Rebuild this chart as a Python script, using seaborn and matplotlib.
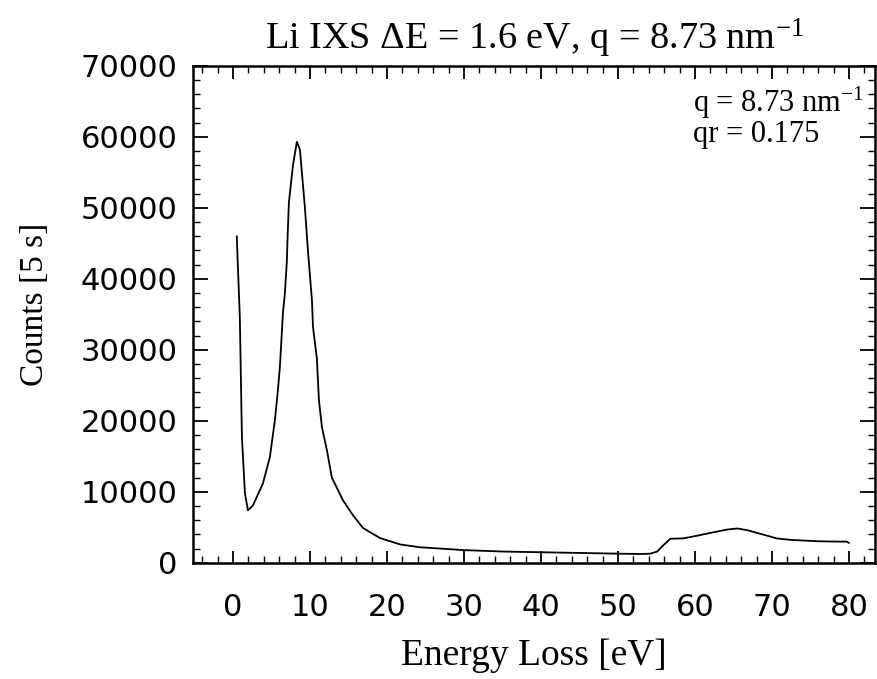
import matplotlib
matplotlib.use("Agg")
import matplotlib.pyplot as plt
from matplotlib.ticker import MultipleLocator
import numpy as np
import pandas as pd
import seaborn as sns

# Energy-loss spectrum of Li (IXS)
energy_loss = [0.5, 0.9, 1.17, 1.56, 1.95, 2.6, 3.9, 4.8, 5.45, 5.84, 6.1, 6.5,
               6.75, 7.0, 7.1, 7.27, 7.8, 8.3, 8.7, 9.35, 9.74, 10.26, 10.4,
               10.9, 11.17, 11.56, 12.2, 12.85, 14.3, 15.6, 16.9, 19.1, 21.7,
               24.3, 30.0, 35.0, 40.0, 45.0, 50.0, 53.0, 54.2, 55.1, 55.8,
               56.8, 58.4, 59.7, 61.9, 64.2, 65.5, 66.8, 68.8, 70.6, 72.3,
               75.8, 78.4, 79.7, 80.0]
counts = [46000, 34500, 17700, 9800, 7400, 8100, 11200, 14900, 20100, 24300,
          27600, 35300, 38000, 42400, 45900, 50800, 56000, 59300, 58200,
          50000, 44000, 37000, 33200, 28800, 22900, 19100, 15900, 12000,
          8800, 6700, 4900, 3500, 2600, 2200, 1800, 1600, 1500, 1400, 1300,
          1250, 1300, 1600, 2400, 3400, 3450, 3700, 4200, 4700, 4850, 4600,
          4000, 3450, 3250, 3050, 3000, 3000, 2800]

x_ticks = [0, 10, 20, 30, 40, 50, 60, 70, 80]
y_ticks = [0, 10000, 20000, 30000, 40000, 50000, 60000, 70000]

title = "Li IXS \u0394E = 1.6 eV, q = 8.73 nm$^{\\mathrm{-1}}$"
note_lines = ["q = 8.73 nm$^{\\mathrm{-1}}$", "qr = 0.175"]

sns.set_style("ticks")
plt.rcParams["font.family"] = ["DejaVu Sans"]
plt.rcParams["mathtext.fontset"] = "custom"
plt.rcParams["mathtext.rm"] = "Liberation Serif"
plt.rcParams["mathtext.it"] = "Liberation Serif:italic"
plt.rcParams["mathtext.bf"] = "Liberation Serif:bold"

df = pd.DataFrame({"Energy Loss": energy_loss, "Counts": counts})

fig = plt.figure(figsize=(8.77, 6.79), dpi=100)
ax = fig.add_axes([0.220, 0.171, 0.778, 0.732])

sns.lineplot(data=df, x="Energy Loss", y="Counts", color="black",
             linewidth=1.3, ax=ax, sort=False)

ax.set_xlim(-5.19, 83.4)
ax.set_ylim(0, 70000)
ax.set_xticks(x_ticks)
ax.set_yticks(y_ticks)
ax.xaxis.set_minor_locator(MultipleLocator(2))
ax.yaxis.set_minor_locator(MultipleLocator(2000))

for s in ax.spines.values():
    s.set_linewidth(1.8)
    s.set_color("black")

ax.tick_params(axis="both", which="major", direction="in", top=True,
               right=True, color="black", width=1.3, labelcolor="black")
ax.tick_params(axis="y", which="major", length=11, pad=11, labelsize=22)
ax.tick_params(axis="x", which="major", length=9, pad=22, labelsize=22)
ax.tick_params(axis="both", which="minor", direction="in", top=True,
               right=True, length=5, width=1.0, color="black")

serif = ["Liberation Serif", "DejaVu Serif"]
ax.set_xlabel("Energy Loss [eV]", family=serif, fontsize=27, color="black")
ax.set_ylabel("Counts [5 s]", family=serif, fontsize=24, color="black")
ax.xaxis.set_label_coords(0.5, -0.152)
ax.yaxis.set_label_coords(-0.21, 0.52)
ax.set_title(title, family=serif, fontsize=27.5, pad=12, color="black")

ax.text(0.733, 0.907, note_lines[0], transform=ax.transAxes, family=serif,
        fontsize=22, va="baseline", ha="left", color="black")
ax.text(0.733, 0.847, note_lines[1], transform=ax.transAxes, family=serif,
        fontsize=22, va="baseline", ha="left", color="black")

fig.savefig("out.png", dpi=100, facecolor="white")
